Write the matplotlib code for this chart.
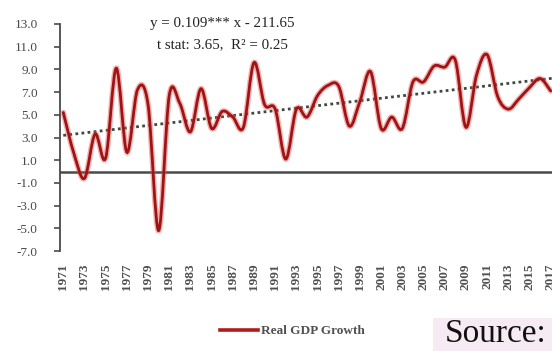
import numpy as np
import matplotlib
matplotlib.use("Agg")
import matplotlib.pyplot as plt
from matplotlib.path import Path
from matplotlib.patches import PathPatch, Rectangle
from matplotlib.lines import Line2D

# data
years = list(range(1971, 2018))
gdp_growth = [
    5.2, 1.6, -0.6, 3.3, 1.2, 9.1, 1.7, 7.2, 5.9, -5.2,
    6.7, 6.0, 3.5, 7.3, 3.8, 5.3, 4.8, 3.9, 9.6, 5.9,
    5.5, 1.1, 5.5, 4.8, 6.7, 7.6, 7.5, 4.0, 6.2, 8.8,
    3.8, 4.8, 3.8, 7.9, 7.9, 9.3, 9.2, 9.8, 3.9, 8.5,
    10.3, 6.6, 5.5, 6.4, 7.4, 8.2, 7.1,
]
trend_slope = 0.109
trend_intercept = -211.65
y_ticks = [13.0, 11.0, 9.0, 7.0, 5.0, 3.0, 1.0, -1.0, -3.0, -5.0, -7.0]
x_ticks = list(range(1971, 2018, 2))

eq_line1 = "y = 0.109*** x - 211.65"
eq_line2 = "t stat: 3.65,  R\u00b2 = 0.25"
legend_label = "Real GDP Growth"
source_text = "Source:"

SERIF = ["Liberation Serif", "DejaVu Serif"]
GREY = "#484848"


def smooth_path(xs, ys):
    """
        Bezier path through the points, like Excel's smoothed line.
    """
    n = len(xs)
    verts = [(xs[0], ys[0])]
    codes = [Path.MOVETO]
    for i in range(n - 1):
        a = i - 1 if i > 0 else i
        d = i + 2 if i + 2 < n else i + 1
        c1 = (xs[i] + (xs[i + 1] - xs[a]) / 6, ys[i] + (ys[i + 1] - ys[a]) / 6)
        c2 = (xs[i + 1] - (xs[d] - xs[i]) / 6, ys[i + 1] - (ys[d] - ys[i]) / 6)
        verts += [c1, c2, (xs[i + 1], ys[i + 1])]
        codes += [Path.CURVE4] * 3
    return Path(verts, codes)


def draw_chart():
    W, H = 552, 351
    fig = plt.figure(figsize=(W / 100, H / 100), dpi=100)
    fig.patch.set_facecolor("white")

    ax = fig.add_axes([60 / W, 1 - 251 / H, 496 / W, 227 / H])
    ax.set_xlim(1970.69, 2017.5)
    ax.set_ylim(-7, 13)

    # trend line
    tx = np.array([years[0], years[-1] + 0.5])
    ax.plot(tx, trend_slope * tx + trend_intercept, linestyle=(0, (1, 1.2)),
            color="#3d4a3d", lw=2.0, zorder=3)

    # smoothed series: soft halo + dark core
    path = smooth_path(years, gdp_growth)
    ax.add_patch(PathPatch(path, fill=False, edgecolor="#e85050", lw=4.0,
                           alpha=0.45, zorder=4, capstyle="round"))
    ax.add_patch(PathPatch(path, fill=False, edgecolor="#9e1414", lw=2.0,
                           zorder=5, capstyle="round"))

    ax.axhline(0, color="#4a4a4a", lw=1.8, zorder=2)

    for side in ["top", "right", "bottom"]:
        ax.spines[side].set_visible(False)
    ax.spines["left"].set_color("#4a4a4a")
    ax.spines["left"].set_linewidth(1.3)

    ax.set_yticks(y_ticks)
    ax.set_yticklabels([f"{v:.1f}" for v in y_ticks], family=SERIF,
                       fontsize=9.5, color=GREY)
    ax.tick_params(axis="y", direction="out", length=4, width=1.2,
                   color="#4a4a4a", pad=12)

    ax.set_xticks(x_ticks)
    ax.set_xticklabels([str(y) for y in x_ticks], rotation=90, family=SERIF,
                       fontsize=9.5, color="#505050", fontweight="bold")
    ax.tick_params(axis="x", length=0, pad=9)

    fig.text(222 / W, 1 - 24 / H, eq_line1, ha="center", va="center",
             family=SERIF, fontsize=10.8, color="#222222")
    fig.text(222 / W, 1 - 45 / H, eq_line2, ha="center", va="center",
             family=SERIF, fontsize=10.8, color="#222222")

    handle = Line2D([], [], color="#b01c1c", lw=2.6)
    fig.legend([handle], [legend_label], loc="center left",
               bbox_to_anchor=(208 / W, 1 - 331 / H), frameon=False,
               handlelength=2.9, handletextpad=0.2,
               prop={"family": SERIF, "size": 9.5, "weight": "bold"},
               labelcolor="#505050")

    fig.add_artist(Rectangle((433 / W, 0), 1 - 433 / W, 33 / H,
                             transform=fig.transFigure, facecolor="#f6ebf3",
                             edgecolor="none", zorder=0))
    fig.text(445 / W, 1 - 334 / H, source_text, ha="left", va="center",
             family=SERIF, fontsize=24, color="#111111")

    fig.savefig("out.png", dpi=100)


if __name__ == "__main__":
    try:
        draw_chart()
    except Exception as e:
        print("Exception: ", e)
